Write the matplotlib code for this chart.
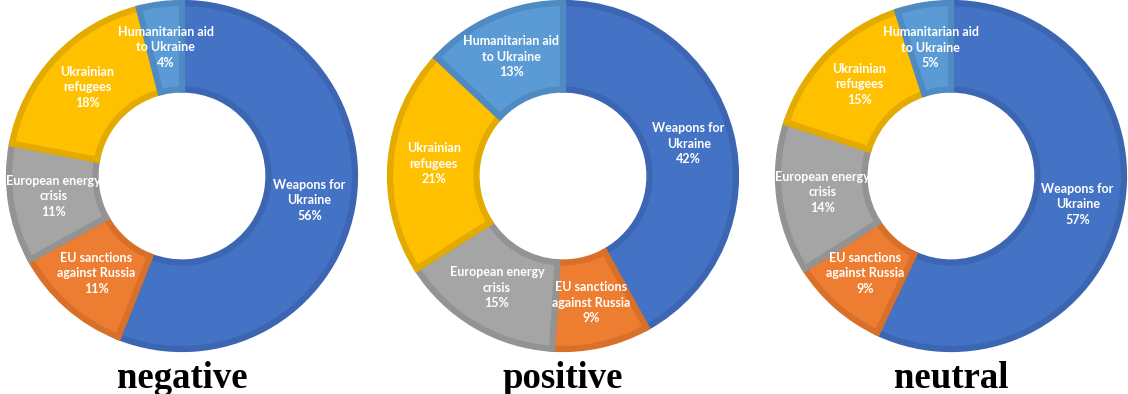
import matplotlib
matplotlib.use("Agg")
import matplotlib.pyplot as plt

# data (percent), order: clockwise from 12 o'clock
categories = ["Weapons for\nUkraine", "EU sanctions\nagainst Russia", "European energy\ncrisis",
              "Ukrainian\nrefugees", "Humanitarian aid\nto Ukraine"]
negative = [56, 11, 11, 18, 4]
positive = [42, 9, 15, 21, 13]
neutral = [57, 9, 14, 15, 5]
titles = ["negative", "positive", "neutral"]

fill_colors = ["#4472C4", "#ED7D31", "#A5A5A5", "#FFC000", "#5B9BD5"]
edge_colors = ["#3C66B2", "#D8702A", "#939393", "#E3AB00", "#4F8BC2"]

fig = plt.figure(figsize=(11.28, 3.94), dpi=100)
ax = fig.add_axes([0, 0, 1, 1])

centers = [(182, 218), (563, 218), (951, 218)]
radius = 173

for vals, (cx, cy), title in zip([negative, positive, neutral], centers, titles):
    labels = [f"{c}\n{v}%" for c, v in zip(categories, vals)]
    wedges, texts = ax.pie(vals, labels=labels, colors=fill_colors, startangle=90,
                           counterclock=False, center=(cx, cy), radius=radius,
                           labeldistance=0.75, frame=True,
                           wedgeprops=dict(width=radius * 0.5, linewidth=4.5))
    for w, ec in zip(wedges, edge_colors):
        w.set_edgecolor(ec)
    for t in texts:
        t.set_ha("center")
        t.set_va("center")
        t.set_color("white")
        t.set_fontsize(9)
        t.set_fontweight("bold")
        t.set_family("Lato")
        t.set_linespacing(1.35)
    ax.text(cx, 16, title, ha="center", va="center", fontsize=26.5,
            fontweight="bold", family="Liberation Serif")

ax.set_xlim(0, 1128)
ax.set_ylim(0, 394)
ax.set_aspect("equal")
ax.axis("off")

fig.savefig("out.png", dpi=100)
